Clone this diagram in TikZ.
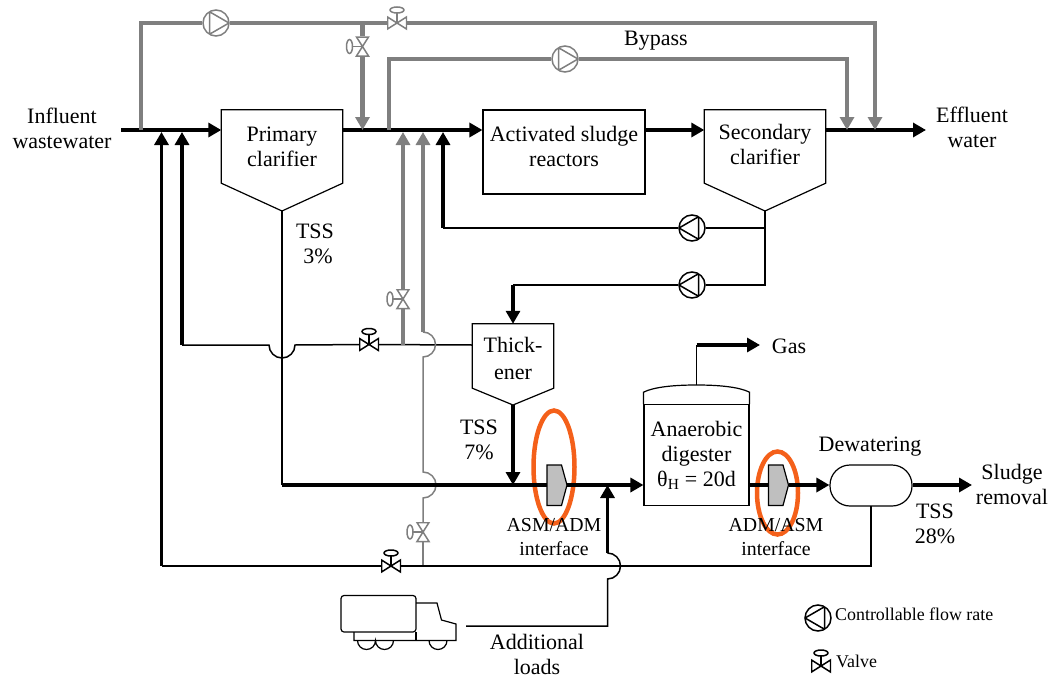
\documentclass[tikz,border=0pt]{standalone}
\usepackage{fontspec}
\setmainfont{Liberation Serif}
\usetikzlibrary{arrows.meta,shapes.geometric}
\definecolor{pipegray}{HTML}{7F7F7F}
\definecolor{ringorange}{HTML}{F4601A}
\definecolor{blockgray}{HTML}{BFBFBF}
\tikzset{
  flowtip/.style={-{Triangle[length=13pt,width=14pt]}},
  mainpipe/.style={line width=4pt},
  risepipe/.style={line width=3.2pt},
  thinpipe/.style={line width=1.5pt},
  graypipe/.style={line width=3.2pt,draw=pipegray},
  graymain/.style={line width=4.4pt,draw=pipegray},
  graythin/.style={line width=1.5pt,draw=pipegray},
  lbl/.style={font=\fontsize{22}{25}\selectfont,align=center,inner sep=0pt},
  smalllbl/.style={font=\fontsize{19.8}{23.5}\selectfont,align=center,inner sep=0pt},
  legendlbl/.style={font=\fontsize{17.9}{20}\selectfont,anchor=west,inner sep=0pt},
  unitbox/.style={lbl,minimum width=#1,inner sep=0pt},
  pumpright/.style={circle,draw=#1,line width=1.5pt,minimum size=26pt,inner sep=0pt,
    path picture={\draw[#1,line width=1.5pt] (0:13pt) -- (120:13pt) -- (240:13pt) -- cycle;}},
  pumpleft/.style={circle,draw=#1,line width=1.5pt,minimum size=26pt,inner sep=0pt,
    path picture={\draw[#1,line width=1.5pt] (180:13pt) -- (60:13pt) -- (300:13pt) -- cycle;}},
  valveup/.style={minimum width=20pt,minimum height=36pt,inner sep=0pt,
    path picture={\begin{scope}[x=1pt,y=1pt,#1,line width=1.5pt]
      \draw (-9.5,-6) -- (9.5,6) -- (9.5,-6) -- (-9.5,6) -- cycle;
      \draw (0,0) -- (0,10);
      \draw (0,13) ellipse (7 and 3);
    \end{scope}}},
  valveleft/.style={minimum width=36pt,minimum height=20pt,inner sep=0pt,
    path picture={\begin{scope}[x=1pt,y=1pt,#1,line width=1.5pt]
      \draw (-6,-9.5) -- (6,9.5) -- (-6,9.5) -- (6,-9.5) -- cycle;
      \draw (0,0) -- (-10,0);
      \draw (-13,0) ellipse (3 and 7);
    \end{scope}}},
  ring/.style={ellipse,draw=ringorange,line width=4.5pt,inner sep=0pt}
}
% Clarifier body: open box with a cone below it
\newcommand{\conebottom}[2]{%
  \draw[line width=1.2pt] (#1.south west) |- (#1.north east) -- (#1.south east)
    -- (#1.south |- 0,#2) coordinate (#1apex) -- cycle;}
% Interface block with the chamfered right side
\newcommand{\interfaceblock}[1]{%
  \draw[line width=1.2pt,fill=blockgray] (#1,465) -- ++(14.5,0) -- ++(5.5,20) -- ++(-5.5,20.5)
    -- ++(-14.5,0) -- cycle;}
\begin{document}
\begin{tikzpicture}[x=1pt,y=-1pt]
\useasboundingbox (0,0) rectangle (1052,680);
% Orange rings go under the pipes
\node[ring,minimum width=41pt,minimum height=113pt] (ringasm) at (554,467) {};
\node[ring,minimum width=41pt,minimum height=83pt] (ringadm) at (777.5,493) {};

% Process units
\node[unitbox=121pt,minimum height=73pt] (primary) at (282,146.5) {Primary\\clarifier};
\conebottom{primary}{211}
\node[unitbox=121pt,minimum height=73pt] (secondary) at (765,146.5) {};
\conebottom{secondary}{211}
\node[lbl] (secondarylbl) at (765,144.5) {Secondary\\clarifier};
\node[unitbox=162pt,minimum height=84pt,draw,line width=1.1pt] (reactors) at (564,152) {};
\node[lbl] (reactorslbl) at (564,146) {Activated sludge\\reactors};
\node[unitbox=81pt,minimum height=64pt] (thickener) at (513,356) {};
\conebottom{thickener}{405}
\node[lbl] (thickenerlbl) at (513,358.5) {Thick-\\[2pt]ener};
\node[unitbox=105pt,minimum height=100.5pt,draw,line width=1.1pt] (digester) at (696.5,455) {Anaerobic\\digester\\θ\textsubscript{H} = 20d};
\draw[line width=1.2pt] (digester.north west) -- ++(0,-12) .. controls +(10,-5) and +(-24,0) .. (digester.north |- 0,385)
  .. controls +(24,0) and +(-10,-5) .. ([yshift=12pt]digester.north east) -- (digester.north east);
\node[draw,line width=1.2pt,rounded corners=20pt,minimum width=82pt,minimum height=41pt,inner sep=0pt] (dewatering) at (871,485.5) {};
\interfaceblock{547}
\interfaceblock{768.5}
\coordinate (blockasmin) at (547,485);
\coordinate (blockasmout) at (567,485);
\coordinate (blockadmin) at (768.5,485);
\coordinate (blockadmout) at (788.5,485);

% Main line
\coordinate (influent) at (121,130);
\coordinate (effluent) at (926,130);
\coordinate (gastop) at (698,345);
\coordinate (gasend) at (760,345);
\coordinate (sludgeend) at (972,485);
\draw[mainpipe,flowtip] (influent) -- (primary.west |- influent);
\draw[mainpipe,flowtip] (primary.east |- influent) -- (reactors.west |- influent);
\draw[mainpipe,flowtip] (reactors.east |- influent) -- (secondary.west |- influent);
\draw[mainpipe,flowtip] (secondary.east |- influent) -- (effluent);

% Gray bypass pipes above the main line
\node[pumpright=pipegray] (pumptop) at (216,23) {};
\node[valveup=pipegray] (valvetop) at (397,23) {};
\node[valveleft=pipegray] (valvefeed) at (362.5,46.5) {};
\node[pumpright=pipegray] (pumpbypass) at (565,59) {};
\coordinate (teein) at (141,130);
\coordinate (teefeed) at (362.5,23);
\coordinate (teebypass) at (389,130);
\draw[graypipe] (teein) -- (teein |- pumptop) -- (pumptop);
\draw[graypipe] (pumptop) -- (valvetop);
\draw[graypipe,flowtip] (valvetop) -- (875,23) coordinate (cornertop) -- (cornertop |- influent);
\draw[graymain] (teefeed) -- (valvefeed);
\draw[graymain,flowtip] (valvefeed) -- (valvefeed |- influent);
\draw[graypipe] (teebypass) -- (teebypass |- pumpbypass) -- (pumpbypass);
\draw[graypipe,flowtip] (pumpbypass) -- (847,59) coordinate (cornerbypass) -- (cornerbypass |- influent);

% Returns from the secondary clarifier
\node[pumpleft=black] (pumpreturn) at (692,228) {};
\node[pumpleft=black] (pumpwaste) at (692,285) {};
\coordinate (returnup) at (443,228);
\coordinate (wastedown) at (513,285);
\draw[thinpipe] (secondaryapex) -- (secondaryapex |- pumpwaste) -- (pumpwaste);
\draw[thinpipe] (secondaryapex |- pumpreturn) -- (pumpreturn);
\draw[thinpipe] (pumpreturn) -- (returnup);
\draw[risepipe,flowtip] (returnup) -- ([yshift=-2pt]returnup |- influent);
\draw[thinpipe] (pumpwaste) -- (wastedown);
\draw[risepipe,flowtip] (wastedown) -- (wastedown |- thickener.north);

% Thickener overflow, with a hop over the primary sludge pipe
\node[valveup=black] (valveover) at (369,344.5) {};
\node[valveleft=pipegray] (valverise) at (403,299) {};
\coordinate (overup) at (182,345);
\coordinate (hopoverend) at (295,345);
\coordinate (teerise) at (403,345);
\coordinate (teethin) at (423,332);
\draw[risepipe,flowtip] (overup) -- ([yshift=-2pt]overup |- influent);
\draw[thinpipe] (thickener.west |- teerise) -- (valveover);
\draw[thinpipe] (valveover) -- (hopoverend) arc[start angle=0,end angle=180,radius=13] -- (overup);
\draw[graypipe] (teerise) -- (valverise);
\draw[graypipe,flowtip] (valverise) -- ([yshift=-2pt]valverise |- influent);
\draw[graypipe,flowtip] (teethin) -- ([yshift=-2pt]teethin |- influent);

% Thin gray feed with its two hops and one valve
\node[valveleft=pipegray] (valvethin) at (423,532) {};
\coordinate (teedrain) at (423,566);
\draw[graythin] (teethin) arc[start angle=-90,end angle=90,radius=12.5] -- (423,472)
  arc[start angle=-90,end angle=90,radius=13] -- (valvethin);
\draw[graythin] (valvethin) -- (teedrain);

% Sludge line to the digester
\coordinate (teeprimary) at (282,485);
\coordinate (teeload) at (607.5,485);
\draw[thinpipe] (primaryapex) -- (teeprimary);
\draw[mainpipe] (teeprimary) -- (blockasmin);
\draw[mainpipe,flowtip] (blockasmout) -- (digester.west |- blockasmout);
\draw[risepipe,flowtip] (thickenerapex) -- (thickenerapex |- blockasmin);
\draw[mainpipe] (digester.east |- blockadmin) -- (blockadmin);
\draw[mainpipe,flowtip] (blockadmout) -- (dewatering.west |- blockadmout);
\draw[mainpipe,flowtip] (dewatering.east |- sludgeend) -- (sludgeend);
\draw[thinpipe] (digester.north |- 0,385) -- (digester.north |- gastop);
\draw[risepipe,flowtip] (digester.north |- gastop) -- (gasend);

% Dewatering return along the bottom
\node[valveup=black] (valvedrain) at (391,566) {};
\coordinate (drainup) at (161.5,566);
\draw[thinpipe] (dewatering.south |- 0,506) -- (dewatering.south |- teedrain) -- (valvedrain);
\draw[thinpipe] (valvedrain) -- (drainup);
\draw[risepipe,flowtip] (drainup) -- ([yshift=-2pt]drainup |- influent);

% Truck and the load pipe
\draw[line width=1.2pt,rounded corners=3pt] (341,595.5) rectangle (416,632);
\draw[line width=1.2pt] (416,603) -- (437,603) -- (441.5,620) -- (456,624) -- (456,640.5) -- (354,640.5) -- (354,632);
\draw[line width=1.2pt] (416,632) -- (416,640.5);
\draw[line width=1.2pt] (357.5,640.5) arc[start angle=180,end angle=0,radius=9] arc[start angle=180,end angle=0,radius=9];
\draw[line width=1.2pt] (429,640.5) arc[start angle=180,end angle=0,radius=9];
\coordinate (truckend) at (466,626);
\coordinate (loadhop) at (607.5,579);
\draw[thinpipe] (truckend) -- (truckend -| loadhop) -- (loadhop) arc[start angle=90,end angle=-90,radius=13];
\draw[risepipe,flowtip] (607.5,553) -- (teeload);

% Labels
\node[lbl] (influentlbl) at (62,128) {Influent\\wastewater};
\node[lbl] (effluentlbl) at (972,127.5) {Effluent\\water};
\node[lbl] (bypasslbl) at (656,41) {Bypass};
\node[lbl] (tssthree) at (315,244) {TSS\\\hspace*{6pt}3\%};
\node[lbl] (tssseven) at (479,440) {TSS\\7\%};
\node[lbl] (tsstwenty) at (935,524) {TSS\\28\%};
\node[lbl] (gaslbl) at (789,346) {Gas};
\node[lbl] (dewaterlbl) at (870,447) {Dewatering};
\node[lbl] (sludgelbl) at (1012,484.5) {Sludge\\removal};
\node[lbl] (loadslbl) at (537,654.5) {Additional\\loads};
\node[smalllbl] (asmlbl) at (554,537) {ASM/ADM\\interface};
\node[smalllbl] (admlbl) at (776,537) {ADM/ASM\\interface};

% Legend
\node[pumpleft=black] (legendpump) at (818,618) {};
\node[legendlbl] (legendflow) at (835,614.5) {Controllable flow rate};
\node[valveup=black] (legendvalve) at (821,666) {};
\node[legendlbl] (legendvalvelbl) at (836,661) {Valve};
\end{tikzpicture}
\end{document}
